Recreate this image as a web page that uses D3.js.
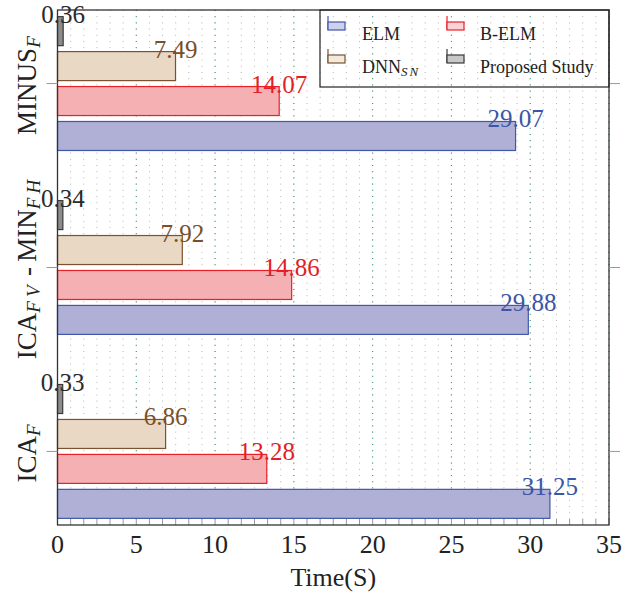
<!DOCTYPE html>
<html>
<head>
<meta charset="utf-8">
<script src="https://cdn.jsdelivr.net/npm/d3@7"></script>
<style>
  body { margin: 0; background: #fff; }
  text { font-family: 'Liberation Serif', 'DejaVu Serif', serif; }
</style>
</head>
<body>
<svg id="chart" width="636" height="594"></svg>
<script>
// Categories, top to bottom. Each label is a list of [text, subscript] parts.
var categories = ['MINUS_F', 'ICA_FV-MIN_FH', 'ICA_F'];
var categoryLabels = [
  [['MINUS', 'F']],
  [['ICA', 'FV'], ['\u2009-\u2009MIN', 'FH']],
  [['ICA', 'F']]
];

var seriesNames = ['ELM', 'B-ELM', 'DNN_SN', 'Proposed Study'];
var elm = [29.07, 29.88, 31.25];
var belm = [14.07, 14.86, 13.28];
var dnn = [7.49, 7.92, 6.86];
var proposed = [0.36, 0.34, 0.33];

var xTicks = [0, 5, 10, 15, 20, 25, 30, 35];

var series = [
  {key: seriesNames[0], values: elm, fill: '#b0afd6', stroke: '#3f58a8', text: '#3b56a6', legendFill: '#cfd0ec'},
  {key: seriesNames[1], values: belm, fill: '#f5b0b3', stroke: '#e8202a', text: '#e31e26', legendFill: '#fbd3d4'},
  {key: seriesNames[2], values: dnn, fill: '#e8d8c4', stroke: '#7a5230', text: '#7a4f2a', legendFill: '#f2eadf'},
  {key: seriesNames[3], values: proposed, fill: '#8c8c8c', stroke: '#3a3a3a', text: '#2a2a2a', legendFill: '#c8c8c8'}
];

var svg = d3.select('#chart');
var plotLeft = 57.5, plotRight = 609, plotTop = 10, plotBottom = 525;

// Scales
var x = d3.scaleLinear().domain([0, 35]).range([plotLeft, plotRight]);
var y = d3.scaleLinear().domain([-0.4, 2.4]).range([plotTop, plotBottom]);
// Bars inside a group, drawn top to bottom.
var inner = d3.scaleBand()
    .domain(['Proposed Study', 'DNN_SN', 'B-ELM', 'ELM'])
    .range([-0.38, 0.38])
    .paddingInner(0.17)
    .paddingOuter(0.085);

// Grid lines: minor every 5/6, major every 5.
var minor = d3.range(0, 35.01, 5 / 6);
svg.append('g').selectAll('line')
    .data(minor)
  .enter().append('line')
    .attr('x1', function(d) { return x(d); })
    .attr('x2', function(d) { return x(d); })
    .attr('y1', plotTop)
    .attr('y2', plotBottom)
    .style('stroke', '#b4b4b4')
    .style('stroke-width', 1)
    .style('stroke-dasharray', '1,5.2');
svg.append('g').selectAll('line')
    .data(xTicks)
  .enter().append('line')
    .attr('x1', function(d) { return x(d); })
    .attr('x2', function(d) { return x(d); })
    .attr('y1', plotTop)
    .attr('y2', plotBottom)
    .style('stroke', '#2f9a6c')
    .style('stroke-width', 1)
    .style('stroke-dasharray', '1,5.2');

// Bottom ticks (inward), major and minor.
svg.append('g').selectAll('line')
    .data(minor)
  .enter().append('line')
    .attr('x1', function(d) { return x(d); })
    .attr('x2', function(d) { return x(d); })
    .attr('y1', plotBottom - 6)
    .attr('y2', plotBottom)
    .style('stroke', '#999')
    .style('stroke-width', 1);

// Bars
series.forEach(function(s) {
  svg.append('g').attr('class', 'series').selectAll('rect')
      .data(s.values)
    .enter().append('rect')
      .attr('x', x(0))
      .attr('y', function(d, i) { return y(i + inner(s.key)); })
      .attr('width', function(d) { return x(d) - x(0); })
      .attr('height', y(inner.bandwidth()) - y(0))
      .style('fill', s.fill)
      .style('stroke', s.stroke)
      .style('stroke-width', 1.2);
});

// Value labels
series.forEach(function(s) {
  svg.append('g').selectAll('text')
      .data(s.values)
    .enter().append('text')
      .attr('x', function(d) { return x(d); })
      .attr('y', function(d, i) { return y(i + inner(s.key)) + 6; })
      .attr('text-anchor', 'middle')
      .style('font-size', '25px')
      .style('fill', s.text)
      .text(function(d) { return d.toFixed(2); });
});

// Frame
svg.append('rect')
    .attr('x', plotLeft)
    .attr('y', plotTop)
    .attr('width', plotRight - plotLeft)
    .attr('height', plotBottom - plotTop)
    .style('fill', 'none')
    .style('stroke', '#333')
    .style('stroke-width', 1.3);

// Y ticks, outward on both sides.
svg.append('g').selectAll('line')
    .data(categories)
  .enter().append('line')
    .attr('x1', plotLeft - 11)
    .attr('x2', plotLeft)
    .attr('y1', function(d, i) { return y(i); })
    .attr('y2', function(d, i) { return y(i); })
    .style('stroke', '#999');
svg.append('g').selectAll('line')
    .data(categories)
  .enter().append('line')
    .attr('x1', plotRight)
    .attr('x2', plotRight + 11)
    .attr('y1', function(d, i) { return y(i); })
    .attr('y2', function(d, i) { return y(i); })
    .style('stroke', '#999');

// Category labels with subscripts
categoryLabels.forEach(function(parts, i) {
  var t = svg.append('text')
      .attr('transform', 'translate(36,' + y(i) + ') rotate(-90)')
      .attr('text-anchor', 'middle')
      .style('font-size', '27px')
      .style('fill', '#222');
  parts.forEach(function(p) {
    t.append('tspan').text(p[0]);
    t.append('tspan')
        .attr('baseline-shift', '-22%')
        .style('font-size', '19px')
        .style('font-style', 'italic')
        .style('letter-spacing', '4px')
        .text(p[1]);
  });
});

// X axis labels
svg.append('g').selectAll('text')
    .data(xTicks)
  .enter().append('text')
    .attr('x', function(d) { return x(d); })
    .attr('y', 553)
    .attr('text-anchor', 'middle')
    .style('font-size', '26px')
    .style('fill', '#222')
    .text(function(d) { return d; });

svg.append('text')
    .attr('x', (plotLeft + plotRight) / 2)
    .attr('y', 586)
    .attr('text-anchor', 'middle')
    .style('font-size', '26px')
    .style('fill', '#222')
    .text('Time(S)');

// Legend
var legend = svg.append('g');
legend.append('rect')
    .attr('x', 320)
    .attr('y', plotTop)
    .attr('width', plotRight - 320)
    .attr('height', 77)
    .style('fill', 'none')
    .style('stroke', '#222')
    .style('stroke-width', 1.2);

var legendPos = [
  {ix: 328, tx: 362, iy: 16, ty: 40},
  {ix: 447, tx: 480, iy: 16, ty: 40},
  {ix: 328, tx: 362, iy: 49, ty: 73},
  {ix: 447, tx: 480, iy: 49, ty: 73}
];
series.forEach(function(s, i) {
  var p = legendPos[i];
  legend.append('line')
      .attr('x1', p.ix).attr('x2', p.ix)
      .attr('y1', p.iy).attr('y2', p.iy + 14)
      .style('stroke', s.stroke)
      .style('stroke-width', 1.2);
  legend.append('rect')
      .attr('x', p.ix)
      .attr('y', p.iy + 6)
      .attr('width', 17)
      .attr('height', 8)
      .style('fill', s.legendFill)
      .style('stroke', s.stroke)
      .style('stroke-width', 1.2);
  var t = legend.append('text')
      .attr('x', p.tx)
      .attr('y', p.ty)
      .style('font-size', '18px')
      .style('fill', '#222');
  if (s.key === 'DNN_SN') {
    t.append('tspan').text('DNN');
    t.append('tspan')
        .attr('baseline-shift', '-22%')
        .style('font-size', '13px')
        .style('font-style', 'italic')
        .style('letter-spacing', '2px')
        .text('SN');
  } else {
    t.text(s.key);
  }
});
</script>
</body>
</html>
